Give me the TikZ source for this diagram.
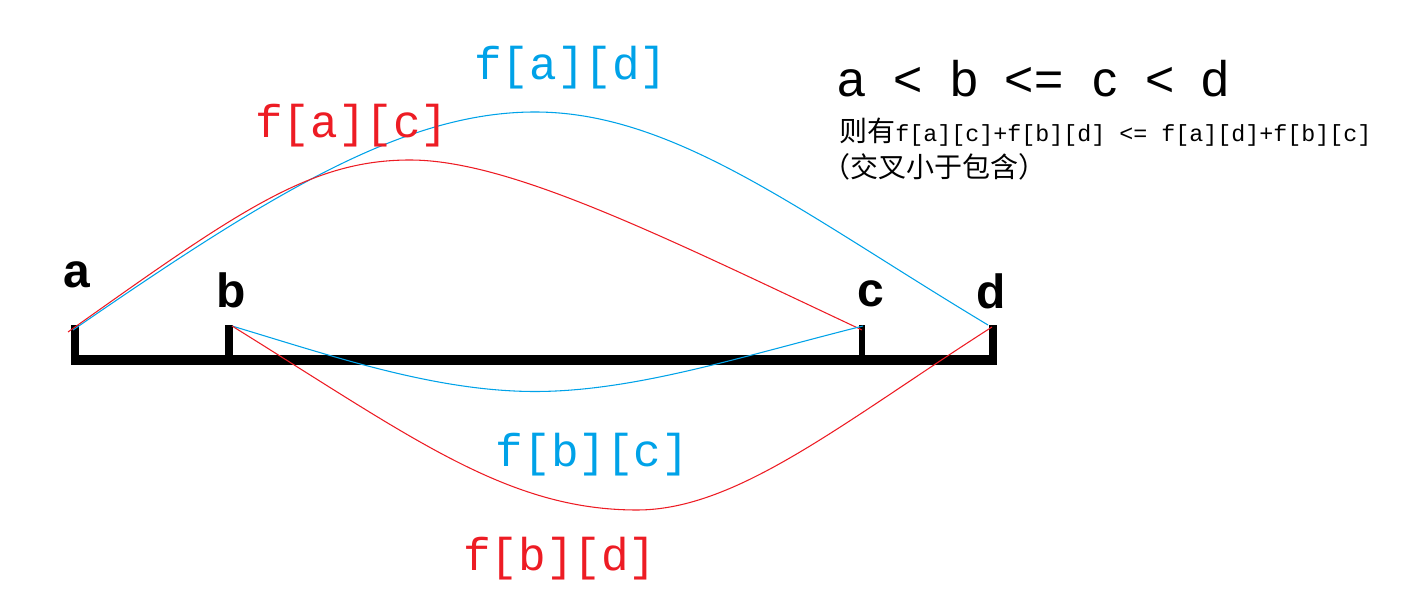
\documentclass[tikz,border=0pt]{standalone}
\usepackage{fontspec}
\setmainfont{Liberation Sans}
\newfontfamily\lmono{Liberation Mono}
\newfontfamily\cjk{Noto Sans CJK SC}
\definecolor{pred}{RGB}{237,28,36}
\definecolor{pblue}{RGB}{0,162,232}
\begin{document}
\begin{tikzpicture}[x=0.75pt,y=-0.75pt,
  redline/.style={draw=pred,line width=0.8pt},
  blueline/.style={draw=pblue,line width=0.8pt},
  flabel/.style={font=\lmono\fontsize{34.5}{40}\selectfont,anchor=base,inner sep=0pt},
  ptlabel/.style={font=\bfseries\fontsize{36}{40}\selectfont,anchor=base,inner sep=0pt},
  hdr/.style={font=\fontsize{37.5}{44}\selectfont,anchor=base,inner sep=0pt},
  note/.style={anchor=base west,inner sep=0pt},
  tick/.style={fill=black}]
\useasboundingbox (0,0) rectangle (1424,609);

% axis bar and ticks
\fill[tick] (71,355) rectangle (997,365);
\fill[tick] (71,325) rectangle (79,365);
\fill[tick] (225,325) rectangle (233,365);
\fill[tick] (859,325) rectangle (865,365);
\fill[tick] (989,325) rectangle (997,365);

% point labels
\node[ptlabel] (la) at (76.5,288) {a};
\node[ptlabel] (lb) at (231,308) {b};
\node[ptlabel] (lc) at (870.5,307) {c};
\node[ptlabel] (ld) at (991,309) {d};

% curve end points and extrema
\coordinate (A1) at (68,332);
\coordinate (A2) at (73,330);
\coordinate (B1) at (232,326);
\coordinate (B2) at (232,326);
\coordinate (C1) at (862,330);
\coordinate (C2) at (863,326);
\coordinate (D1) at (988,325);
\coordinate (D2) at (992,327);
\coordinate (Mac) at (410,160);
\coordinate (Mad) at (535,112);
\coordinate (Mbc) at (535,391.5);
\coordinate (Mbd) at (637,510);

% f[a][d]
\draw[blueline] (A2) .. controls (273,192) and (405,112) .. (Mad)
  .. controls (675,112) and (803,214) .. (D1);
% f[a][c]
\draw[redline] (A1) .. controls (238,211.3) and (310,160) .. (Mac)
  .. controls (510,160) and (662,236) .. (C1);
% f[b][c]
\draw[blueline] (B1) .. controls (332,356) and (435,391.5) .. (Mbc)
  .. controls (635,391.5) and (743,356) .. (C2);
% f[b][d]
\draw[redline] (B2) .. controls (412,437.6) and (507,510) .. (Mbd)
  .. controls (737,510) and (842,423) .. (D2);

% curve labels
\node[flabel,text=pblue] (fad) at (571,80) {f[a][d]};
\node[flabel,text=pred] (fac) at (352,138) {f[a][c]};
\node[flabel,text=pblue] (fbc) at (592.5,466) {f[b][c]};
\node[flabel,text=pred] (fbd) at (560,570) {f[b][d]};

% header
\node[hdr] (h1) at (851.5,97) {a};
\node[hdr] (h2) at (908.5,97) {<};
\node[hdr] (h3) at (964.5,97) {b};
\node[hdr] (h4) at (1034,97) {<=};
\node[hdr] (h5) at (1104.5,97) {c};
\node[hdr] (h6) at (1160.5,97) {<};
\node[hdr] (h7) at (1215.5,97) {d};

\node[note] (n1) at (839,142) {{\cjk\fontsize{21}{24}\selectfont 则有}{\lmono\fontsize{17.5}{20}\selectfont f[a][c]+f[b][d] <= f[a][d]+f[b][c]}};
\node[note] (n2) at (822,178) {\cjk\fontsize{21}{24}\selectfont （交叉小于包含）};
\end{tikzpicture}
\end{document}
